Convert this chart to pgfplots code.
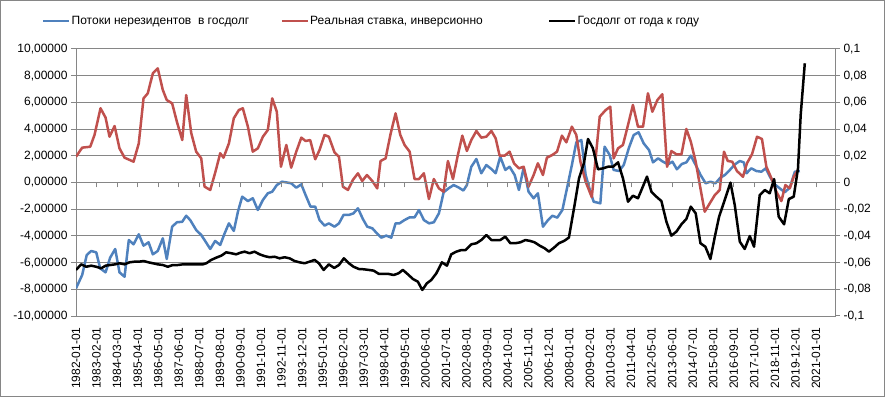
\documentclass[border=0pt]{standalone}
\usepackage{fontspec}
\setmainfont{Liberation Sans}
\usepackage{pgfplots}
\pgfplotsset{compat=1.18}
\definecolor{sblue}{HTML}{4F81BD}
\definecolor{sred}{HTML}{C0504D}
\definecolor{gridc}{HTML}{868686}
\newcommand{\lbl}{\fontsize{12bp}{14bp}\selectfont}
\begin{document}
\begin{tikzpicture}
\draw[gridc, line width=1bp] (0.5bp,0.5bp) rectangle (884.5bp,396.5bp);
\begin{axis}[
  at={(76bp,81bp)}, anchor=south west,
  scale only axis, width=759bp, height=267bp,
  xmin=0, xmax=480, ymin=-10, ymax=10,
  xtick={0,13,...,468},
  xticklabels={1982-01-01,1983-02-01,1984-03-01,1985-04-01,1986-05-01,1987-06-01,1988-07-01,1989-08-01,1990-09-01,1991-10-01,1992-11-01,1993-12-01,1995-01-01,1996-02-01,1997-03-01,1998-04-01,1999-05-01,2000-06-01,2001-07-01,2002-08-01,2003-09-01,2004-10-01,2005-11-01,2006-12-01,2008-01-01,2009-02-01,2010-03-01,2011-04-01,2012-05-01,2013-06-01,2014-07-01,2015-08-01,2016-09-01,2017-10-01,2018-11-01,2019-12-01,2021-01-01},
  xticklabel style={font=\lbl, yshift=-3bp, rotate=90, anchor=east},
  xtick style={draw=none},
  ytick={-10,-8,-6,-4,-2,0,2,4,6,8,10},
  ytick pos=left,
  yticklabel style={font=\lbl, /pgf/number format/.cd, fixed, fixed zerofill, precision=5, use comma, assume math mode=true},
  tick align=outside, major tick length=5bp,
  ymajorgrids, grid style={gridc, line width=1bp},
  axis line style={gridc, line width=1bp},
  ytick style={gridc, line width=1bp},
  legend columns=3,
  legend image code/.code={\draw[#1] (0bp,0bp) -- (26bp,0bp);},
  legend style={at={(axis description cs:-0.0448,1.105)}, anchor=west, draw=none, fill=none, inner sep=0pt, font=\lbl, nodes={inner sep=1bp}},
  legend cell align=left,
]
\addplot[sblue, line width=2.5bp, line join=round] coordinates {
(0,-7.93)(3.9,-6.93)(6.8,-5.43)(9.6,-5.13)(12.8,-5.23)(15.3,-6.43)(18.7,-6.73)(21.6,-5.63)(24.8,-4.98)(27.5,-6.73)(30.7,-7.06)(33.4,-4.31)(36.4,-4.63)(39.7,-3.88)(42.7,-4.73)(45.9,-4.48)(48.6,-5.38)(51.7,-5.13)(54.9,-4.18)(57.4,-5.73)(60.8,-3.31)(63.8,-2.98)(67.2,-2.94)(69.7,-2.49)(72.2,-2.81)(76,-3.56)(79.2,-3.93)(81.3,-4.31)(84.9,-4.98)(88,-4.38)(91.2,-4.68)(94,-3.81)(96.7,-3.06)(99.8,-3.63)(102.4,-2.19)(105.1,-1.06)(108.7,-1.39)(111.8,-1.18)(115,-2.06)(118.2,-1.31)(121.3,-0.81)(124.1,-0.69)(127,-0.19)(130.2,0.06)(133,0.01)(136.1,-0.06)(139.3,-0.39)(142.5,-0.14)(145.2,-0.94)(148.3,-1.81)(151.3,-1.81)(154,-2.81)(157.2,-3.23)(159.9,-3.06)(163.5,-3.31)(166.3,-3.06)(169.2,-2.43)(172.6,-2.43)(175.5,-2.31)(178.3,-1.93)(181.4,-2.73)(184.2,-3.31)(187.4,-3.43)(190.3,-3.81)(193.1,-4.13)(196.2,-3.98)(199.4,-4.13)(202.1,-3.06)(204.6,-3.06)(207.8,-2.81)(211,-2.61)(214.1,-2.61)(216.9,-2.06)(220,-2.81)(223.2,-3.06)(226.3,-2.98)(229.5,-2.31)(232.5,-0.73)(235.6,-0.44)(238.8,-0.19)(242.2,-0.39)(245,-0.6)(247.2,-0.19)(250,1.18)(253.2,1.76)(256.3,0.69)(259.5,1.31)(262.7,1.01)(265.4,0.69)(268.3,1.93)(271.5,0.94)(274.2,1.18)(277.4,0.56)(280.1,-0.56)(283.1,1.11)(286.2,-0.69)(289.4,-1.18)(292.1,-0.81)(295.3,-3.31)(298.5,-2.81)(301.2,-2.49)(304.4,-2.63)(307.6,-2.06)(310.5,-0.44)(313.6,1.31)(316.4,3.01)(319.6,3.18)(322.3,0.56)(325.3,-0.69)(327.4,-1.44)(331.6,-1.56)(334.3,2.68)(337.5,2.06)(340,0.94)(343.4,0.86)(346.4,1.31)(349.7,2.61)(352.7,3.56)(355.8,3.76)(359,2.93)(362.4,2.43)(364.9,1.51)(368.1,1.81)(371.2,1.56)(374.4,1.36)(377.2,1.56)(380,0.99)(383.2,1.39)(386,1.51)(388.8,2.01)(391.9,1.31)(395,0.56)(398.2,-0.06)(401.2,0.06)(404.4,-0.06)(407.5,0.36)(410.3,0.56)(413.5,0.94)(416.7,1.36)(419.8,1.61)(422.3,1.51)(424,0.69)(427.1,1.06)(430.3,0.86)(433.5,0.81)(436.2,1.06)(439.2,0.36)(441.9,-0.14)(445.1,-0.44)(448.2,-0.73)(451.4,-0.39)(454.6,0.81)(457.8,0.86)
};
\addlegendentry{\makebox[208bp][l]{Потоки нерезидентов\ \ в госдолг}}
\addplot[sred, line width=2.5bp, line join=round] coordinates {
(0,1.93)(3.9,2.61)(9,2.68)(11.7,3.56)(15.5,5.56)(18.7,4.86)(21.2,3.43)(24.4,4.23)(27.5,2.56)(30.7,1.86)(36.4,1.56)(39.7,2.93)(42.7,6.3)(45.4,6.68)(48.6,8.18)(51.7,8.55)(54.9,6.93)(57.4,6.18)(60.8,5.93)(63.8,4.55)(67.2,3.18)(69.7,6.55)(72.9,3.69)(76,2.31)(79.2,1.81)(81.3,-0.31)(84.9,-0.56)(88.2,0.81)(91.2,2.19)(93.3,1.86)(96.7,2.93)(99.8,4.81)(103,5.43)(105.5,5.56)(108.7,4.18)(111.8,2.31)(115,2.56)(118.2,3.43)(121.3,3.93)(124.1,6.3)(127,5.3)(129.6,1.18)(133,2.81)(136.1,1.11)(139.3,2.31)(142.5,3.36)(145.2,3.11)(148.1,3.18)(151.3,1.74)(154,2.43)(157.2,3.56)(159.9,3.43)(163.5,2.25)(166.3,1.93)(168.8,-0.31)(172,-0.56)(175.1,0.19)(178.3,0.69)(181,0.11)(184,0.56)(187.4,0.11)(190.5,-0.44)(192.6,1.61)(195.8,1.81)(198.8,3.56)(202.1,5.18)(205.1,3.56)(207.8,2.81)(211,2.31)(214.1,0.26)(216.9,0.26)(220,0.69)(223.2,-1.24)(226.3,0.26)(229.5,-0.44)(232.5,-0.69)(235.2,1.61)(238.4,0.26)(241.5,2.06)(244.3,3.51)(247.2,2.36)(250,3.18)(253.2,3.86)(256.3,3.36)(259.5,3.43)(262.7,3.86)(265.4,3.31)(267.9,2.01)(271.1,2.01)(274.2,2.31)(277,1.44)(280.1,1.06)(283.1,1.18)(286.2,-0.31)(289.4,0.56)(292.1,1.44)(295.3,0.56)(297.8,1.86)(301.2,2.06)(304.2,2.31)(307.3,3.51)(310.1,3.01)(313.6,4.18)(316.4,3.56)(319,1.56)(322.3,0.06)(326.2,-1.1)(331.2,4.93)(335,5.43)(337.9,5.68)(340,1.81)(342.8,2.56)(345.9,2.81)(349.1,4.31)(352.2,5.81)(355.4,4.18)(358.6,4.18)(361.7,6.68)(364.5,5.3)(367.7,6.18)(370.8,6.61)(373.8,1.18)(376.5,2.36)(379.7,2.11)(382.9,2.11)(386,4.01)(388.8,3.06)(391.9,1.56)(394.9,-0.44)(397.6,-2.19)(400.8,-1.56)(404,-0.94)(407.1,-0.56)(409.8,2.31)(412.2,1.61)(415,1.56)(418,0.86)(421.8,0.43)(424.3,1.44)(427.5,2.11)(430.7,3.43)(433.8,3.26)(436.6,1.18)(439.8,0.31)(442.9,-0.69)(446.1,-1.39)(448.6,-0.19)(451.4,-0.44)(453.9,0.43)(456.6,0.94)
};
\addlegendentry{\makebox[237bp][l]{Реальная ставка, инверсионно}}
\addlegendimage{black, line width=2.5bp}
\addlegendentry{Госдолг от года к году}
\end{axis}
\begin{axis}[
  at={(76bp,81bp)}, anchor=south west,
  scale only axis, width=759bp, height=267bp,
  xmin=0, xmax=480, ymin=-0.1, ymax=0.1,
  axis y line*=right, axis x line*=middle,
  xtick={0,13,...,468}, xticklabels={},
  ytick={-0.1,-0.08,-0.06,-0.04,-0.02,0,0.02,0.04,0.06,0.08,0.1},
  yticklabel style={font=\lbl, /pgf/number format/.cd, fixed, precision=2, use comma, assume math mode=true},
  tick align=outside, major tick length=5bp,
  axis line style={gridc, line width=1bp},
  tick style={gridc, line width=1bp},
]
\addplot[black, line width=2.5bp, line join=round] coordinates {
(0,-0.0655)(3.3,-0.0613)(6.5,-0.0631)(9.6,-0.0623)(12.8,-0.0631)(15.9,-0.0643)(18.7,-0.0623)(21.6,-0.0618)(24.8,-0.0613)(27.5,-0.0605)(30.7,-0.0613)(33.8,-0.0598)(37,-0.0593)(40,-0.0593)(42.7,-0.0588)(45.9,-0.0598)(48.6,-0.0605)(51.7,-0.0613)(54.9,-0.0618)(58.1,-0.0631)(61.2,-0.0618)(64.4,-0.0618)(67.6,-0.0613)(71.8,-0.0613)(76,-0.0613)(80.2,-0.0613)(82.4,-0.0605)(85.5,-0.058)(88.7,-0.0563)(91.9,-0.0548)(95,-0.0523)(98.2,-0.053)(101.3,-0.0538)(103.9,-0.0526)(106.6,-0.0518)(109.8,-0.053)(112.9,-0.0518)(116.1,-0.0538)(119.2,-0.0551)(122.4,-0.056)(125.6,-0.0556)(128.7,-0.0568)(131.9,-0.056)(135.1,-0.0568)(138.2,-0.0588)(141.4,-0.0598)(144.6,-0.0605)(147.7,-0.0593)(150.9,-0.058)(153.6,-0.0605)(156.6,-0.0655)(159.9,-0.0613)(163.3,-0.064)(166.3,-0.0618)(169.4,-0.0568)(172.6,-0.0605)(175.5,-0.0631)(178.9,-0.0648)(181.9,-0.065)(185.2,-0.0655)(188.2,-0.066)(191.6,-0.0685)(194.5,-0.0685)(197.7,-0.0685)(200.9,-0.0693)(204,-0.068)(206.7,-0.0655)(209.9,-0.0688)(213.1,-0.0723)(216.2,-0.0743)(219,-0.0805)(221.9,-0.0755)(224.7,-0.073)(227.9,-0.068)(231.4,-0.0598)(234.6,-0.0623)(237.3,-0.0538)(240.5,-0.0518)(243.7,-0.0506)(246.4,-0.0506)(250,-0.0463)(253.2,-0.0455)(256.3,-0.0431)(259.5,-0.0393)(262.7,-0.0431)(265.8,-0.0431)(268.3,-0.0431)(271.5,-0.0406)(274.7,-0.0455)(277.8,-0.0455)(281,-0.0448)(284.2,-0.0431)(287.3,-0.0438)(290,-0.0448)(293.2,-0.0473)(296.4,-0.0493)(299.1,-0.0518)(302.3,-0.0488)(305.4,-0.0455)(308.6,-0.0438)(311.7,-0.0413)(315.3,-0.0169)(318.1,0.0031)(321.2,0.0144)(323.8,0.0326)(326.9,0.0256)(330.1,0.0099)(333.3,0.0106)(336.4,0.0118)(339.6,0.0118)(342.8,0.0151)(345.9,0.0031)(349.1,-0.0144)(352.2,-0.0099)(355.4,-0.0118)(358.2,-0.0039)(361.1,0.0044)(363.9,-0.0069)(367,-0.0106)(370.2,-0.0139)(373.4,-0.0294)(376.5,-0.0398)(379.7,-0.0368)(382.9,-0.0313)(386,-0.0273)(388.8,-0.0181)(391.9,-0.0231)(394.9,-0.0455)(398,-0.0481)(401.2,-0.0573)(404,-0.0406)(406.7,-0.0256)(409.9,-0.0144)(413.9,-0.0001)(416.6,-0.0169)(419.8,-0.0443)(422.9,-0.0498)(426.1,-0.0401)(428.8,-0.0481)(432.4,-0.0094)(435.6,-0.0056)(438.7,-0.0081)(441.5,0.0026)(444.4,-0.0256)(447.8,-0.0313)(450.8,-0.0124)(453.9,-0.0106)(456.6,0.0106)(458.3,0.0506)(460.9,0.0893)
};
\end{axis}
\end{tikzpicture}
\end{document}
